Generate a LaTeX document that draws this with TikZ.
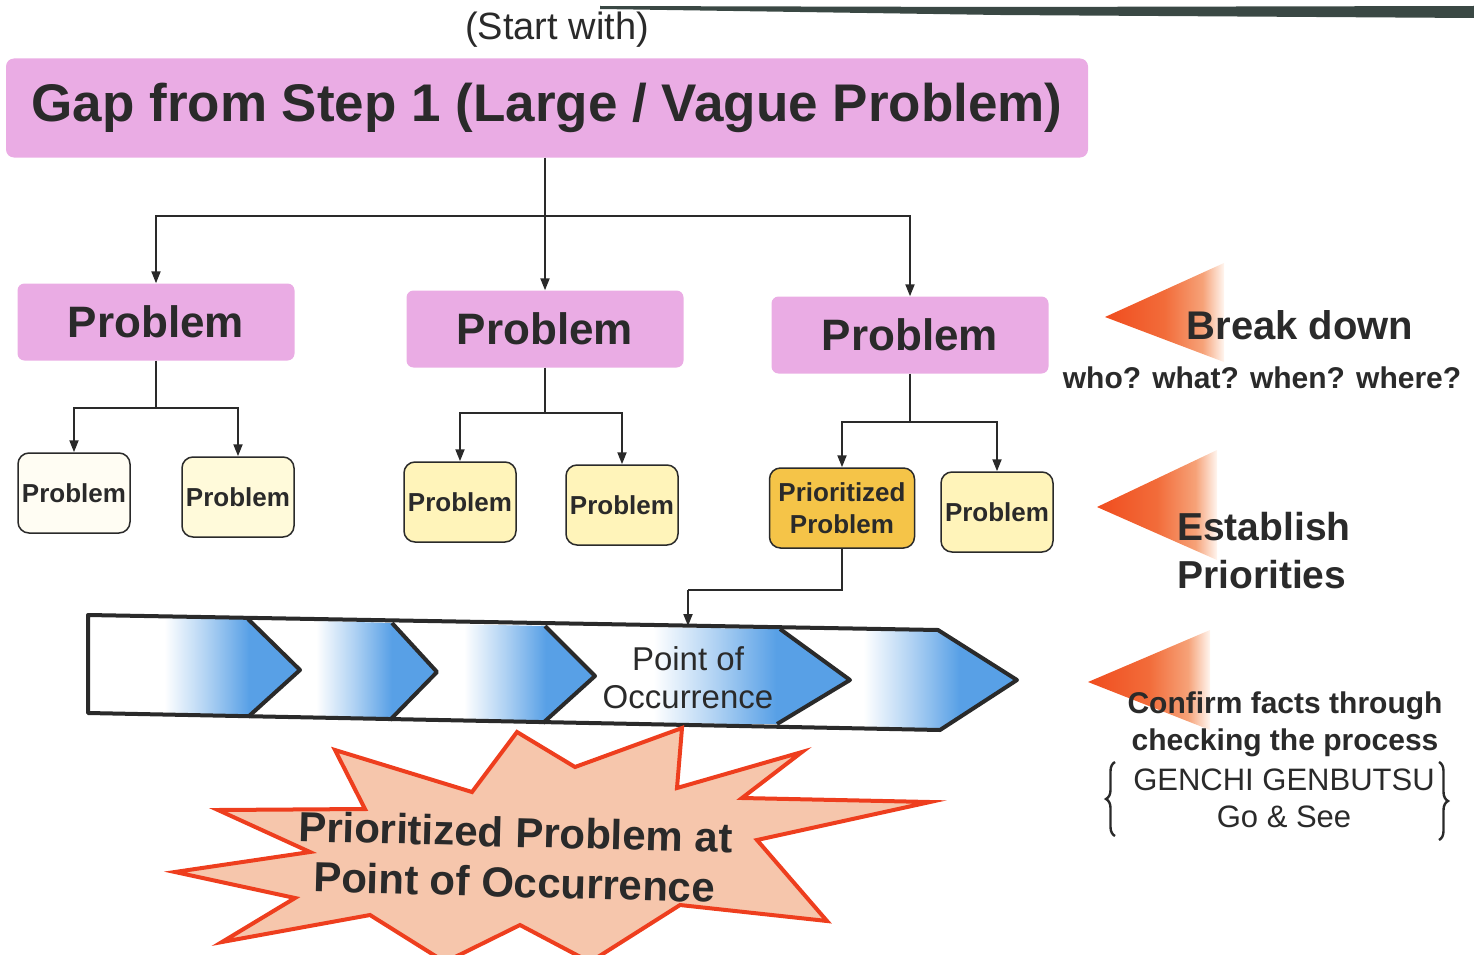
\documentclass[tikz,border=0pt]{standalone}
\usepackage{fontspec}
\setmainfont{Liberation Sans}
\usetikzlibrary{arrows.meta,decorations.pathreplacing}

\definecolor{ink}{RGB}{42,42,42}
\definecolor{pinkC}{RGB}{234,172,228}
\definecolor{paleA}{RGB}{255,253,243}
\definecolor{paleB}{RGB}{255,250,218}
\definecolor{yellowC}{RGB}{255,244,186}
\definecolor{goldC}{RGB}{245,196,72}
\definecolor{procblue}{RGB}{88,160,230}
\definecolor{procmid}{RGB}{176,210,243}
\definecolor{triA}{RGB}{240,76,30}
\definecolor{triB}{RGB}{242,108,58}
\definecolor{triC}{RGB}{246,162,120}
\definecolor{triD}{RGB}{255,246,240}
\definecolor{burstline}{RGB}{238,62,30}
\definecolor{burstfill}{RGB}{246,198,172}
\definecolor{barC}{RGB}{58,72,68}

% process band: white on the left, blue towards the point
\pgfdeclarehorizontalshading{chevshade}{100bp}{color(0bp)=(white); color(25bp)=(white); color(43bp)=(white); color(53bp)=(procmid); color(63bp)=(procblue); color(100bp)=(procblue)}
% pointer triangles: strong orange at the tip, fading out to the right
\pgfdeclarehorizontalshading{fadetri}{100bp}{color(0bp)=(triA); color(25bp)=(triA); color(50bp)=(triB); color(66bp)=(triC); color(75bp)=(triD); color(100bp)=(triD)}

\begin{document}
\begin{tikzpicture}[x=1pt,y=-1pt,
  txt/.style={text=ink, inner sep=0pt, align=center},
  line/.style={draw=ink, line width=2pt},
  arr/.style={line, -{Triangle[length=12pt,width=9pt]}},
  pinkbox/.style={fill=pinkC, rounded corners=7pt, text=ink, inner sep=0pt,
    font=\bfseries\fontsize{44}{50}\selectfont, minimum width=277pt, minimum height=77pt},
  smallbox/.style={draw=ink, line width=1.5pt, rounded corners=11pt, text=ink, inner sep=0pt,
    minimum width=112pt, minimum height=80pt, align=center,
    font=\bfseries\fontsize{26}{32}\selectfont},
  bandline/.style={draw=ink, line width=4pt, line join=round},
  tri/.style={shading=fadetri},
]
\useasboundingbox (0,0) rectangle (1474,955);
\clip (0,0) rectangle (1474,955);

% dark bar along the top edge
\fill[barC] (600,6) -- (1000,7) -- (1474,6) -- (1474,18) -- (1000,15) -- (600,9) -- cycle;

% heading
\node[txt, font=\fontsize{38}{44}\selectfont] (start) at (557,30) {(Start with)};
\node[fill=pinkC, rounded corners=8pt, text=ink, inner sep=0pt,
      minimum width=1082pt, minimum height=99pt,
      font=\bfseries\fontsize{53}{60}\selectfont] (title) at (547,108)
      {Gap from Step 1 (Large / Vague Problem)};

% first break-down level
\node[pinkbox] (p1) at (156,322) {Problem};
\node[pinkbox] (p2) at (545,329) {Problem};
\node[pinkbox] (p3) at (910,335) {Problem};

% second break-down level
\node[smallbox, fill=paleA] (q1) at (74,493) {Problem};
\node[smallbox, fill=paleB] (q2) at (238,497) {Problem};
\node[smallbox, fill=yellowC] (q3) at (460,502) {Problem};
\node[smallbox, fill=yellowC] (q4) at (622,505) {Problem};
\node[smallbox, fill=goldC, minimum width=145pt] (q5) at (842,508) {Prioritized\\Problem};
\node[smallbox, fill=yellowC] (q6) at (997,512) {Problem};

% tree connectors
\coordinate (j0) at (545,216);
\draw[line] (title.south -| j0) -- (j0);
\draw[arr] (j0) -| (p1);
\draw[arr] (j0) -- (p2);
\draw[arr] (j0) -| (p3);

\coordinate (j1) at (156,408);
\draw[line] (p1) -- (j1);
\draw[arr] (j1) -| (q1);
\draw[arr] (j1) -| (q2);

\coordinate (j2) at (545,413);
\draw[line] (p2) -- (j2);
\draw[arr] (j2) -| (q3);
\draw[arr] (j2) -| (q4);

\coordinate (j3) at (910,422);
\draw[line] (p3) -- (j3);
\draw[arr] (j3) -| (q5);
\draw[arr] (j3) -| (q6);

% process band
\shade[shading=chevshade] (88,615) -- (248,619) -- (300,670) -- (248,717) -- (88,713) -- cycle;
\shade[shading=chevshade] (248,619) -- (392,623) -- (437,672) -- (390,720) -- (248,717) -- (300,670) -- cycle;
\shade[shading=chevshade] (392,623) -- (545,626) -- (595,676) -- (543,723) -- (390,720) -- (437,672) -- cycle;
\shade[shading=chevshade] (545,626) -- (780,629) -- (850,680) -- (777,724) -- (543,723) -- (595,676) -- cycle;
\shade[shading=chevshade] (780,629) -- (938,630) -- (1017,680) -- (940,730) -- (777,724) -- (850,680) -- cycle;
\draw[bandline] (88,615) -- (938,630) -- (1017,680) -- (940,730) -- (88,713) -- cycle;
\draw[bandline] (248,619) -- (300,670) -- (248,717);
\draw[bandline] (392,623) -- (437,672) -- (390,720);
\draw[bandline] (545,626) -- (595,676) -- (543,723);
\draw[bandline] (780,629) -- (850,680) -- (777,724);
\node[txt, font=\fontsize{33}{38}\selectfont] (poc) at (688,678) {Point of\\Occurrence};

\coordinate (j4) at (688,590);
\coordinate (bandtop) at (688,626);
\draw[line] (q5) |- (j4);
\draw[arr] (j4) -- (bandtop);

% starburst
\draw[draw=burstline, fill=burstfill, line width=4pt, line join=miter, miter limit=20]
  (175,872) -- (310,852) -- (218,810) -- (365,809) -- (335,750) -- (472,792)
  -- (517,732) -- (575,767) -- (682,728) -- (677,788) -- (802,752) -- (742,798)
  -- (930,802) -- (757,840) -- (827,921) -- (680,905) -- (590,962) -- (520,925)
  -- (445,962) -- (370,915) -- (222,942) -- (295,898) -- cycle;
\node[txt, rotate=-1.5, font=\bfseries\fontsize{42}{50}\selectfont] (burst) at (515,857)
  {Prioritized Problem at\\Point of Occurrence};

% pointers on the right
\shade[tri] (1105,317) -- (1224,263) -- (1224,362) -- cycle;
\shade[tri] (1097,507) -- (1217,450) -- (1217,560) -- cycle;
\shade[tri] (1088,682) -- (1210,630) -- (1210,730) -- cycle;

\node[txt, font=\bfseries\fontsize{40}{46}\selectfont] (bd) at (1300,325) {Break down};
\node[txt, font=\bfseries\fontsize{30}{36}\selectfont] (www) at (1262,378) {who? what? when? where?};
\node[txt, anchor=west, align=left, font=\bfseries\fontsize{39}{48}\selectfont] (ep) at (1177,551) {Establish\\Priorities};
\node[txt, font=\bfseries\fontsize{30}{37}\selectfont] (cf) at (1285,724) {Confirm facts through\\checking the process};
\node[txt, font=\fontsize{31}{37}\selectfont] (gg) at (1284,798) {GENCHI GENBUTSU\\Go \& See};
\draw[ink, line width=2.4pt, decorate, decoration={brace, amplitude=9pt}] (1115,836) -- (1115,762);
\draw[ink, line width=2.4pt, decorate, decoration={brace, amplitude=9pt}] (1439,762) -- (1439,840);
\end{tikzpicture}
\end{document}
